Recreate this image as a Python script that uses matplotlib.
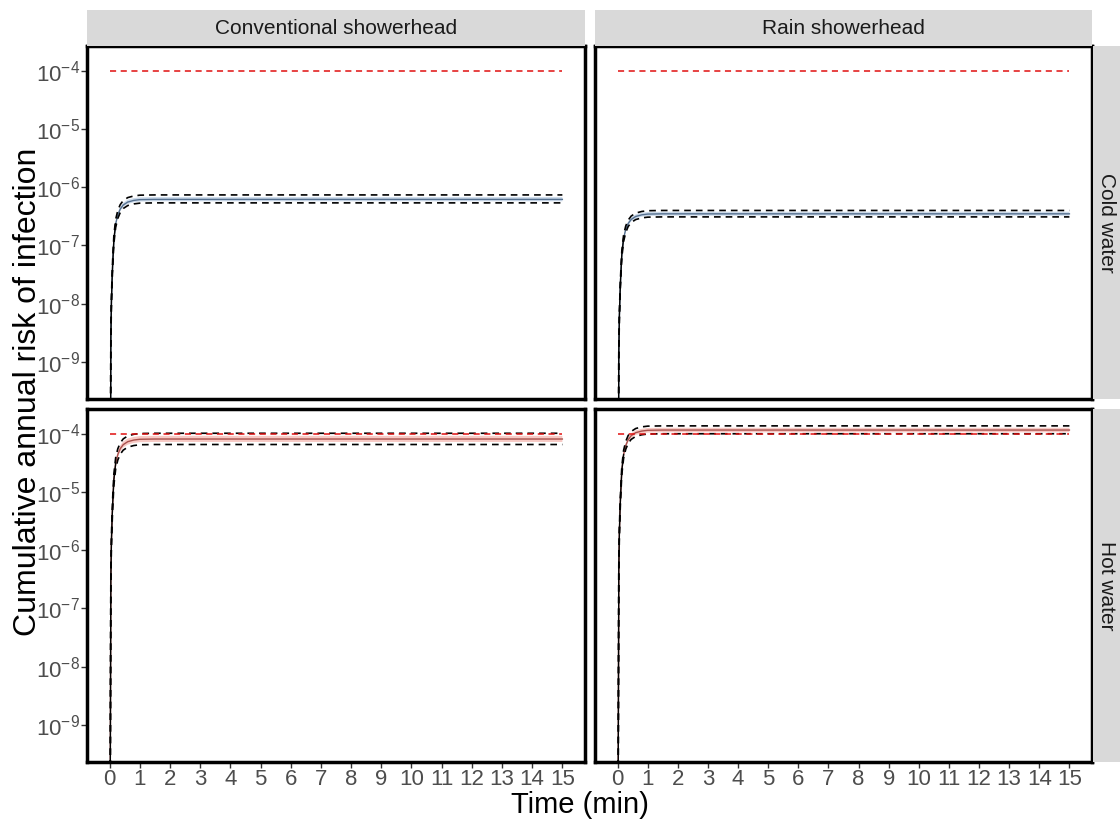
import numpy as np
import matplotlib
matplotlib.use("Agg")
import matplotlib.pyplot as plt

plt.rcParams['font.family'] = ['Liberation Sans', 'DejaVu Sans']
plt.rcParams['mathtext.default'] = 'regular'

# facet labels
showerheads = ["Conventional showerhead", "Rain showerhead"]
waters = ["Cold water", "Hot water"]

# time points (min) and shape of the rise (fraction of plateau)
t_min = [0, 0.02, 0.04, 0.06, 0.08, 0.1, 0.14, 0.2, 0.27, 0.35, 0.45, 0.6, 0.8, 1.0, 1.5, 15]
rise_frac = [0, 1e-6, 4e-3, 0.018, 0.04, 0.076, 0.2, 0.38, 0.54, 0.68, 0.8, 0.9, 0.96, 0.99, 1.0, 1.0]

# plateau values per panel: [conventional, rain]
mean_cold = [6.2e-7, 3.5e-7]
lo_cold = [5.4e-7, 3.1e-7]
hi_cold = [7.4e-7, 4.0e-7]
rib_lo_cold = [5.75e-7, 3.25e-7]
rib_hi_cold = [6.8e-7, 3.8e-7]

mean_hot = [8.2e-5, 1.17e-4]
lo_hot = [6.6e-5, 1.01e-4]
hi_hot = [1.03e-4, 1.38e-4]
rib_lo_hot = [7.3e-5, 1.07e-4]
rib_hi_hot = [9.3e-5, 1.28e-4]

threshold = 1e-4
xticks = list(range(0, 16))
yticks = [1e-9, 1e-8, 1e-7, 1e-6, 1e-5, 1e-4]

W, H = 1120, 824
fig = plt.figure(figsize=(W / 100, H / 100), dpi=100)

def box(x0, y0, x1, y1):
    # pixel box (top-left origin) -> figure fraction
    return [x0 / W, 1 - y1 / H, (x1 - x0) / W, (y1 - y0) / H]

col_x = [(87, 585), (595, 1092)]
row_y = [(46, 399), (409, 762)]

styles = {
    0: dict(mean=mean_cold, lo=lo_cold, hi=hi_cold, rlo=rib_lo_cold, rhi=rib_hi_cold,
            line="#55708f", fill="#cddbeb"),
    1: dict(mean=mean_hot, lo=lo_hot, hi=hi_hot, rlo=rib_lo_hot, rhi=rib_hi_hot,
            line="#a8504c", fill="#f7c9c4"),
}

t = np.array(t_min)
frac = np.array(rise_frac)

for r in range(2):
    s = styles[r]
    for c in range(2):
        x0, x1 = col_x[c]
        y0, y1 = row_y[r]
        ax = fig.add_axes(box(x0, y0, x1, y1))
        ax.set_yscale('log')
        ax.fill_between(t, frac * s['rlo'][c], frac * s['rhi'][c], color=s['fill'], lw=0)
        ax.plot(t, frac * s['mean'][c], color=s['line'], lw=1.0)
        ax.plot(t, frac * s['lo'][c], color='black', lw=1.2, ls=(0, (4, 3)))
        ax.plot(t, frac * s['hi'][c], color='black', lw=1.2, ls=(0, (4, 3)))
        ax.plot([0, 15], [threshold, threshold], color='#e01010', lw=1.1, ls=(0, (4, 3)))
        # solid rising line on top
        ax.plot(t[:8], frac[:8] * s['mean'][c], color='black', lw=1.0)

        ax.set_xlim(-0.75, 15.75)
        ax.set_ylim(10 ** -9.64, 10 ** -3.57)
        ax.set_xticks(xticks)
        ax.set_yticks(yticks)
        ax.minorticks_off()
        ax.tick_params(axis='both', colors='#333333', labelcolor='#4d4d4d',
                       labelsize=16, length=4, width=1, pad=1)
        if c == 0:
            ax.set_yticklabels([r'$10^{-%d}$' % k for k in range(9, 3, -1)])
        else:
            ax.tick_params(axis='y', length=0, labelleft=False)
        if r == 0:
            ax.tick_params(axis='x', length=0, labelbottom=False)
        for sp in ax.spines.values():
            sp.set_linewidth(2.5)
            sp.set_color('black')

        if r == 0:
            sax = fig.add_axes(box(x0, 10, x1, y0))
            sax.set_facecolor('#d9d9d9')
            sax.set_xticks([])
            sax.set_yticks([])
            for sp in sax.spines.values():
                sp.set_visible(False)
            sax.text(0.5, 0.5, showerheads[c], ha='center', va='center',
                     fontsize=15, color='#1a1a1a', transform=sax.transAxes)
        if c == 1:
            rax = fig.add_axes(box(1093, y0, 1120, y1))
            rax.set_facecolor('#d9d9d9')
            rax.set_xticks([])
            rax.set_yticks([])
            for sp in rax.spines.values():
                sp.set_visible(False)
            rax.text(0.5, 0.5, waters[r], ha='center', va='center', rotation=-90,
                     fontsize=15, color='#1a1a1a', transform=rax.transAxes)

fig.text(28 / W, 1 - 392 / H, "Cumulative annual risk of infection", rotation=90,
         ha='center', va='center', fontsize=23, color='black')
fig.text(580 / W, 1 - 805 / H, "Time (min)", ha='center', va='center',
         fontsize=21, color='black')

fig.savefig("out.png", dpi=100)
